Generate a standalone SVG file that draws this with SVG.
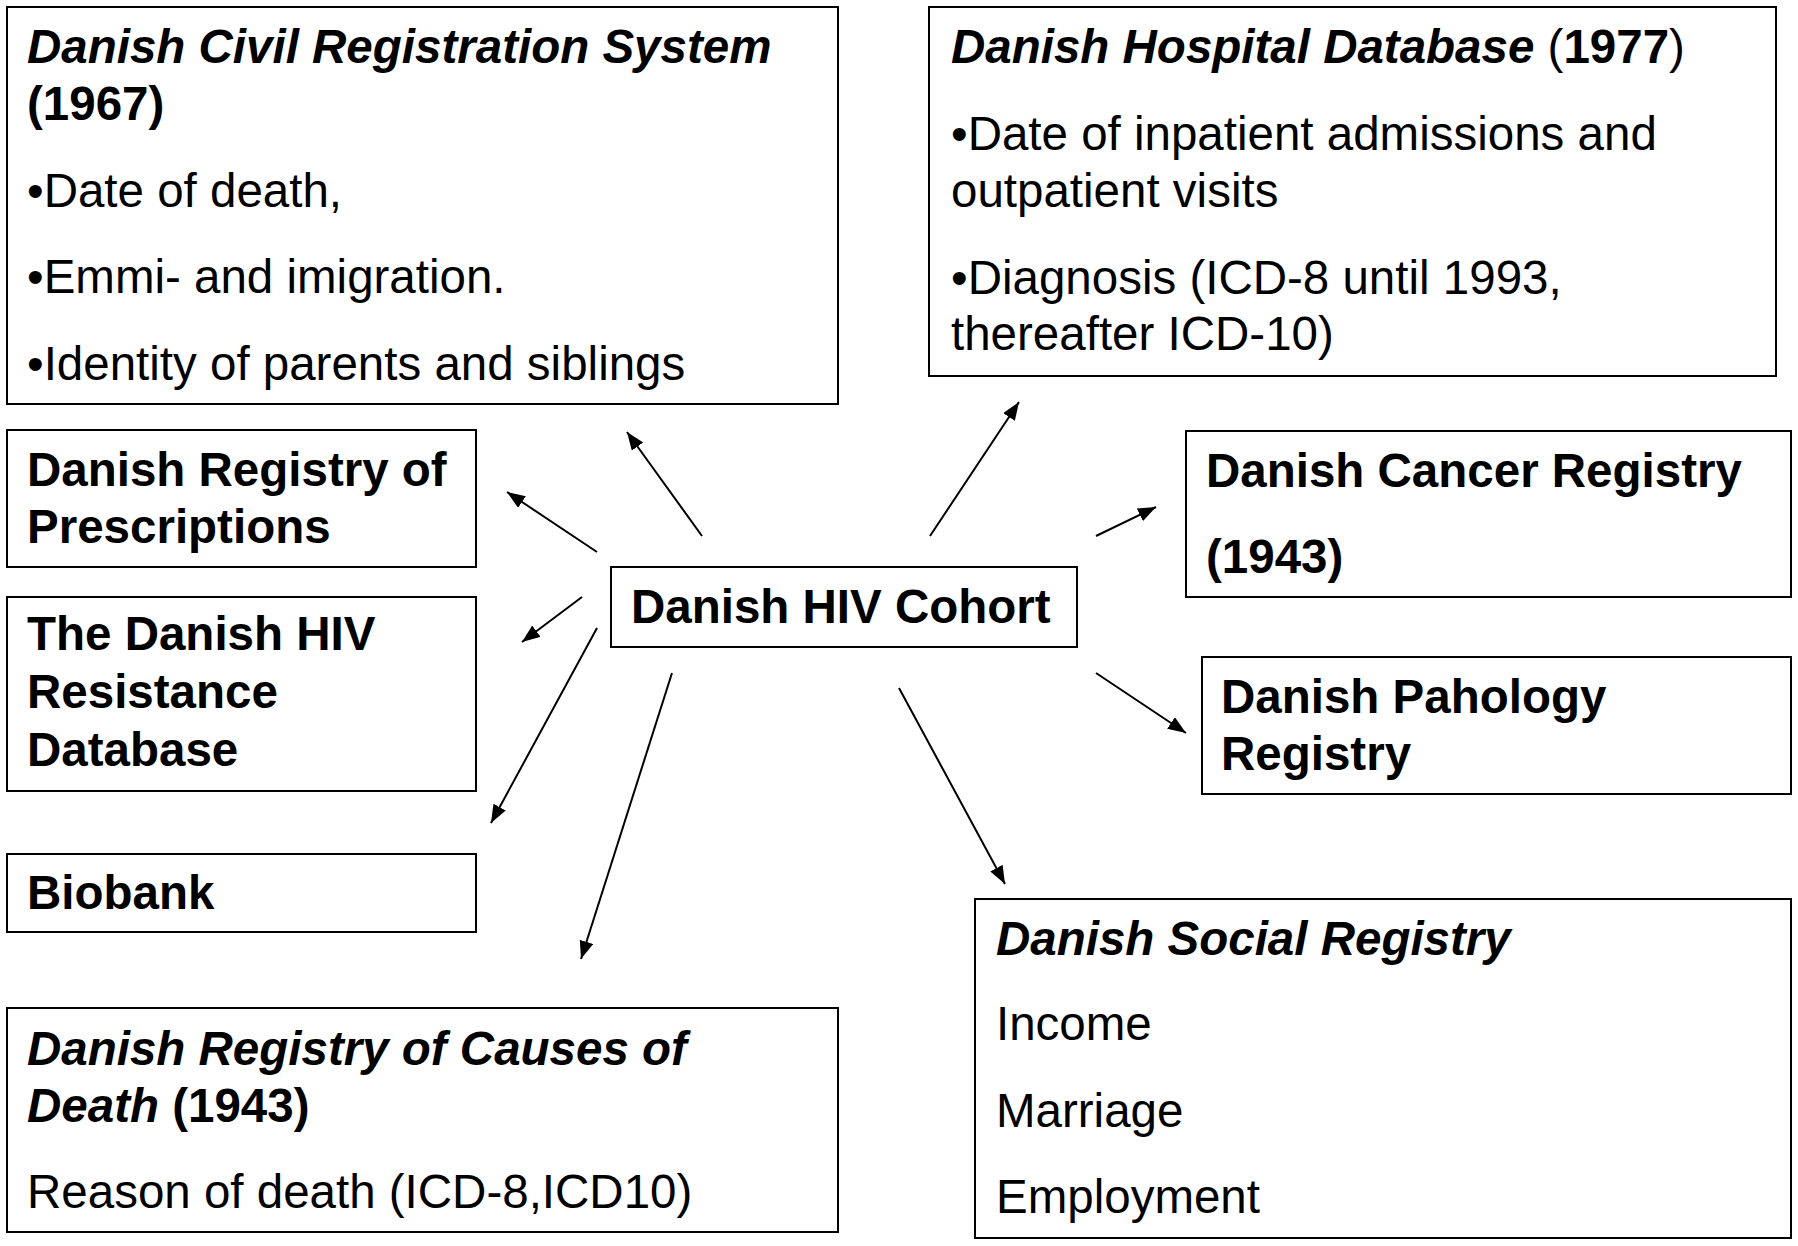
<svg xmlns="http://www.w3.org/2000/svg" width="1798" height="1246" viewBox="0 0 1798 1246">
<style>
.box{fill:#fff;stroke:#000;stroke-width:2}
.t{font-family:"Liberation Sans",Arial,sans-serif;font-size:47.5px;fill:#000}
.b{font-weight:bold}
.i{font-style:italic}
.c{stroke:#000;stroke-width:2;fill:none;marker-end:url(#ah)}
</style>
<defs>
<marker id="ah" markerUnits="userSpaceOnUse" markerWidth="20" markerHeight="16" refX="18" refY="7" orient="auto">
<path d="M0,0 L18,7 L0,14 Z" fill="#000"/>
</marker>
</defs>
<rect width="1798" height="1246" fill="#fff"/>
<g id="connectors">
<path class="c" d="M702,536 L627,432"/>
<path class="c" d="M597,552 L507,492"/>
<path class="c" d="M582,597 L522,642"/>
<path class="c" d="M597,628 L491,823"/>
<path class="c" d="M672,673 L581,959"/>
<path class="c" d="M930,536 L1019,402"/>
<path class="c" d="M1096,536 L1156,507"/>
<path class="c" d="M1096,673 L1186,733"/>
<path class="c" d="M899,688 L1005,884"/>
</g>
<g id="civil">
<rect class="box" x="7" y="7" width="831" height="397"/>
<text class="t b i" x="27" y="63">Danish Civil Registration System</text>
<text class="t b" x="27" y="120">(1967)</text>
<text class="t" x="27" y="207">•Date of death,</text>
<text class="t" x="27" y="293">•Emmi- and imigration.</text>
<text class="t" x="27" y="380">•Identity of parents and siblings</text>
</g>
<g id="hospital">
<rect class="box" x="929" y="7" width="847" height="369"/>
<text class="t" x="951" y="63"><tspan class="b i">Danish Hospital Database</tspan> (<tspan class="b">1977</tspan>)</text>
<text class="t" x="951" y="150">•Date of inpatient admissions and</text>
<text class="t" x="951" y="207">outpatient visits</text>
<text class="t" x="951" y="294">•Diagnosis (ICD-8 until 1993,</text>
<text class="t" x="951" y="350">thereafter ICD-10)</text>
</g>
<g id="prescriptions">
<rect class="box" x="7" y="430" width="469" height="137"/>
<text class="t b" x="27" y="486">Danish Registry of</text>
<text class="t b" x="27" y="543">Prescriptions</text>
</g>
<g id="resistance">
<rect class="box" x="7" y="597" width="469" height="194"/>
<text class="t b" x="27" y="650">The Danish HIV</text>
<text class="t b" x="27" y="708">Resistance</text>
<text class="t b" x="27" y="766">Database</text>
</g>
<g id="biobank">
<rect class="box" x="7" y="854" width="469" height="78"/>
<text class="t b" x="27" y="909">Biobank</text>
</g>
<g id="causes">
<rect class="box" x="7" y="1008" width="831" height="224"/>
<text class="t b i" x="27" y="1065">Danish Registry of Causes of</text>
<text class="t b" x="27" y="1122"><tspan class="i">Death</tspan> (1943)</text>
<text class="t" x="27" y="1208">Reason of death (ICD-8,ICD10)</text>
</g>
<g id="cohort">
<rect class="box" x="611" y="567" width="466" height="80"/>
<text class="t b" x="631" y="623">Danish HIV Cohort</text>
</g>
<g id="cancer">
<rect class="box" x="1186" y="431" width="605" height="166"/>
<text class="t b" x="1206" y="487">Danish Cancer Registry</text>
<text class="t b" x="1206" y="573">(1943)</text>
</g>
<g id="pathology">
<rect class="box" x="1202" y="657" width="589" height="137"/>
<text class="t b" x="1221" y="713">Danish Pahology</text>
<text class="t b" x="1221" y="770">Registry</text>
</g>
<g id="social">
<rect class="box" x="975" y="899" width="816" height="339"/>
<text class="t b i" x="996" y="955">Danish Social Registry</text>
<text class="t" x="996" y="1040">Income</text>
<text class="t" x="996" y="1127">Marriage</text>
<text class="t" x="996" y="1213">Employment</text>
</g>
</svg>
